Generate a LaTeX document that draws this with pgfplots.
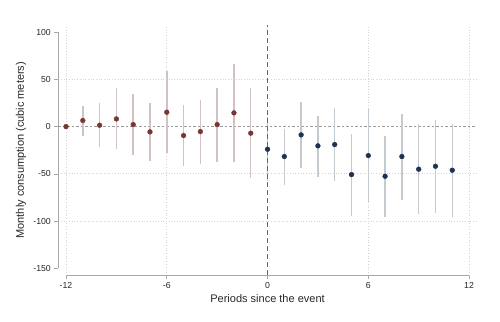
\documentclass[border=0pt]{standalone}
\usepackage{fontspec}
\setmainfont{Liberation Sans}
\usepackage{pgfplots}
\pgfplotsset{compat=1.18}
\usepackage{pgfplotstable}
\definecolor{premk}{HTML}{7A3535}
\definecolor{postmk}{HTML}{1E3350}
\definecolor{preci}{HTML}{D2C2C4}
\definecolor{postci}{HTML}{C3CBD1}
\definecolor{axgray}{HTML}{A8A8A8}
\definecolor{gridc}{HTML}{D4D4D4}
\pgfplotstableread{
x y lo hi
-12 0 0 0
-11 6.4 -9.5 21.9
-10 1.4 -21.8 24.8
-9 8.1 -24 40.3
-8 2.1 -30.3 34.6
-7 -5.6 -36.3 24.8
-6 15.2 -27.5 58.3
-5 -9.5 -41.6 23.3
-4 -5.3 -39.5 28.3
-3 2.1 -37.7 41
-2 14.5 -38 66.4
-1 -7 -54.7 40.3
}\pre
\pgfplotstableread{
x y lo hi
0 -24 -58 10
1 -31.7 -61.8 -2.5
2 -8.8 -43.4 26.5
3 -20.4 -53 11.7
4 -19 -57.5 19.4
5 -50.8 -94.3 -8
6 -30.7 -79.4 18.4
7 -52.6 -95.3 -9.8
8 -31.7 -78 13.8
9 -45.1 -92.8 2.5
10 -42 -91.7 7.1
11 -46.2 -95.6 3.2
}\post
\begin{document}
\begin{tikzpicture}
\path[use as bounding box] (0,0) rectangle (500bp,322bp);
\begin{axis}[
  at={(58.3bp,46.7bp)}, anchor=south west,
  scale only axis, width=418.3bp, height=250.3bp,
  xmin=-12.46, xmax=12.45, ymin=-157.4, ymax=107.5,
  axis line style={draw=none},
  xtick={-12,-6,0,6,12}, ytick={-150,-100,-50,0,50,100},
  xtick pos=bottom, ytick pos=left,
  tick align=outside, major tick length=4bp,
  tick style={axgray, line width=0.6bp},
  /pgf/number format/assume math mode=true,
  ticklabel style={font=\fontsize{8.7bp}{10bp}\selectfont, text=black!85},
  xlabel={Periods since the event},
  ylabel={Monthly consumption (cubic meters)},
  label style={font=\fontsize{11bp}{13bp}\selectfont, text=black!85},
  xlabel style={at={([yshift=-23.7bp]axis cs:0,-157.4)}, anchor=center},
  ylabel style={at={([xshift=-37.3bp]axis cs:-12.46,-25)}, anchor=center},
  clip=false,
]
\foreach \gx in {-12,-6,6,12} {
  \edef\tmp{\noexpand\draw[gridc, line width=0.7bp, dotted] (axis cs:\gx,-157.4) -- (axis cs:\gx,107.5);}\tmp
}
\foreach \gy in {-100,-50,50} {
  \edef\tmp{\noexpand\draw[gridc, line width=0.7bp, dotted] (axis cs:-12.46,\gy) -- (axis cs:12.45,\gy);}\tmp
}
\draw[axgray, line width=0.6bp] (axis cs:-12.46,-150) -- (axis cs:-12.46,100);
\draw[axgray, line width=0.6bp] (axis cs:-12,-157.4) -- (axis cs:12,-157.4);
\draw[gray!80, line width=0.6bp, dash pattern=on 2.5bp off 2bp] (axis cs:-12.46,0) -- (axis cs:12.45,0);
\addplot[draw=none, mark=none, forget plot,
  error bars/.cd, y dir=both, y explicit, error mark=none,
  error bar style={preci, line width=1.5bp}]
  table[x=x, y=y, y error plus expr=\thisrow{hi}-\thisrow{y}, y error minus expr=\thisrow{y}-\thisrow{lo}] {\pre};
\addplot[draw=none, mark=none, forget plot,
  error bars/.cd, y dir=both, y explicit, error mark=none,
  error bar style={postci, line width=1.5bp}]
  table[x=x, y=y, y error plus expr=\thisrow{hi}-\thisrow{y}, y error minus expr=\thisrow{y}-\thisrow{lo}] {\post};
\draw[black!60, line width=0.7bp, dash pattern=on 5bp off 3bp] (axis cs:0,-157.4) -- (axis cs:0,107.5);
\addplot[only marks, mark=*, mark size=2.4bp, premk, mark options={fill=premk, draw=premk}] table[x=x,y=y] {\pre};
\addplot[only marks, mark=*, mark size=2.4bp, postmk, mark options={fill=postmk, draw=postmk}] table[x=x,y=y] {\post};
\end{axis}
\end{tikzpicture}
\end{document}
